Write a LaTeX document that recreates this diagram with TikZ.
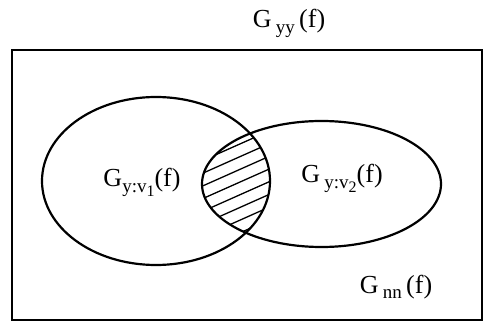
\documentclass[tikz,border=0pt]{standalone}
\usepackage{fontspec}
\setmainfont{Liberation Serif}
\usetikzlibrary{shapes.geometric}
\newcommand{\lsub}[1]{\raisebox{-0.5ex}{\fontsize{19}{19}\selectfont #1}}
\newcommand{\llsub}[1]{\raisebox{-0.35ex}{\fontsize{16}{16}\selectfont #1}}
\begin{document}
\begin{tikzpicture}[x=1pt,y=1pt,
  lbl/.style={inner sep=0pt, font=\fontsize{26}{26}\selectfont},
  setshape/.style={draw, ellipse, line width=2.2pt, inner sep=0pt},
  hatch/.style={line width=1.3pt}]
\useasboundingbox (0,0) rectangle (484,324);
\node[draw, line width=2.2pt, minimum width=470pt, minimum height=270pt, inner sep=0pt] (box) at (247,139) {};
\node[setshape, minimum width=228pt, minimum height=168pt] (e1) at (156,143) {};
\node[setshape, minimum width=239pt, minimum height=126pt] (e2) at (321.5,140) {};
\begin{scope}
  \clip (156,143) ellipse [x radius=114, y radius=84];
  \clip (321.5,140) ellipse [x radius=119.5, y radius=63];
  \begin{scope}[shift={(245,142)}, rotate=24]
    \foreach \k in {-7,...,7} \draw[hatch] (-90,\k*11.6+2) -- (90,\k*11.6+2);
  \end{scope}
\end{scope}
\node[lbl, anchor=base] (gyy) at (289,296) {G\,\lsub{yy}\,(f)};
\node[lbl, anchor=base] (gv1) at (142,137) {G\lsub{y:v\llsub{1}}(f)};
\node[lbl, anchor=base] (gv2) at (342,141) {G\,\lsub{y:v\llsub{2}}(f)};
\node[lbl, anchor=base] (gnn) at (396,31) {G\,\lsub{nn}\,(f)};
\end{tikzpicture}
\end{document}
